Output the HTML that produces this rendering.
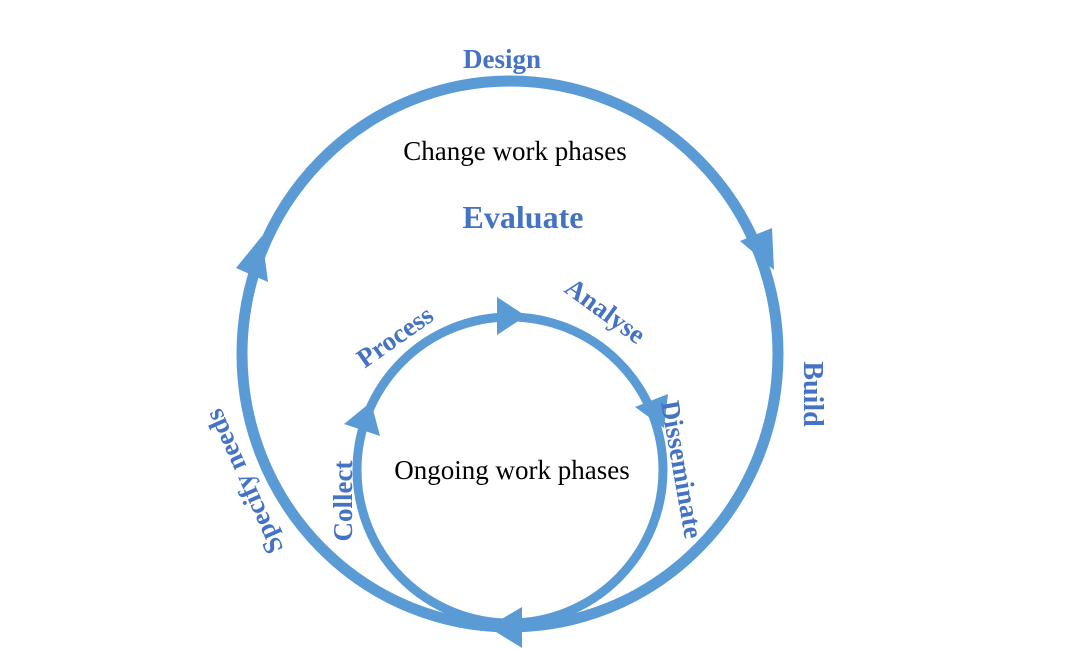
<!DOCTYPE html>
<html><head><meta charset="utf-8"><style>
html,body{margin:0;padding:0;background:#fff;}
svg{display:block;}
text{font-family:"Liberation Serif",serif;}
.b{fill:#4472c4;font-weight:bold;}
</style></head><body>
<svg width="1068" height="650" viewBox="0 0 1068 650">
<g fill="none" stroke="#5b9bd5">
<ellipse cx="510" cy="354" rx="268" ry="273" stroke-width="11"/>
<circle cx="510" cy="470" r="153" stroke-width="9"/>
</g>
<g fill="#5b9bd5">
<polygon points="740,241 772,228 774,270"/>
<polygon points="236,268 262,236 268,282"/>
<polygon points="488,627 522,607 522,648"/>
<polygon points="497,297 526,316 497,335"/>
<polygon points="635,407 668,394 664,428"/>
<polygon points="344,424 371,402 380,436"/>
</g>
<text x="502" y="68" text-anchor="middle" class="b" font-size="27">Design</text>
<text x="515" y="160" text-anchor="middle" font-size="27" fill="#000">Change work phases</text>
<text x="523" y="228" text-anchor="middle" class="b" font-size="32">Evaluate</text>
<text x="512" y="479" text-anchor="middle" font-size="27" fill="#000">Ongoing work phases</text>
<text transform="translate(804,394) rotate(90)" text-anchor="middle" class="b" font-size="28">Build</text>
<text transform="translate(252,478) rotate(-114)" text-anchor="middle" class="b" font-size="27">Specify needs</text>
<text transform="translate(352,501) rotate(-90)" text-anchor="middle" class="b" font-size="27">Collect</text>
<text transform="translate(400,344) rotate(-35)" text-anchor="middle" class="b" font-size="27">Process</text>
<text transform="translate(600,318) rotate(36)" text-anchor="middle" class="b" font-size="27">Analyse</text>
<text transform="translate(673,471) rotate(80)" text-anchor="middle" class="b" font-size="27">Disseminate</text>
</svg>
</body></html>
